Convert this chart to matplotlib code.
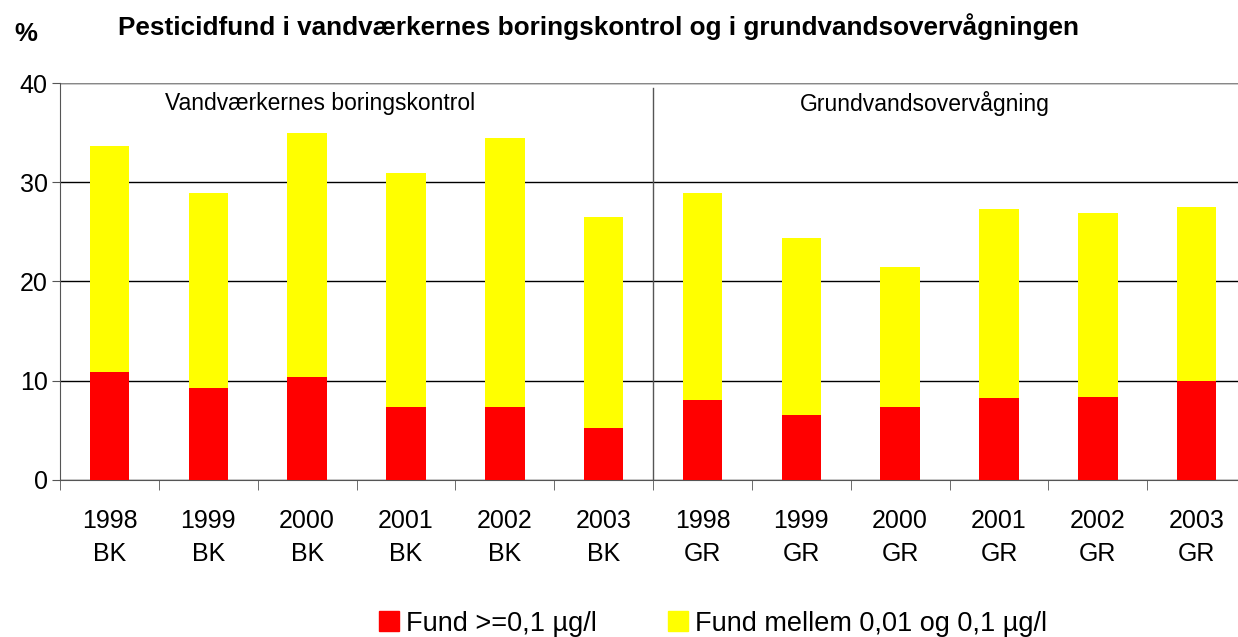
import numpy as np
import matplotlib.pyplot as plt
from matplotlib.patches import Patch

plt.rcParams['font.family'] = ['Liberation Sans', 'DejaVu Sans']

years = ['1998', '1999', '2000', '2001', '2002', '2003']
groups = ['BK', 'GR']
labels = [y + '\n' + g for g in groups for y in years]

# total % with finds, and the part >= 0.1 ug/l
total = [33.7, 28.9, 35.0, 30.9, 34.5, 26.5,
         28.9, 24.4, 21.5, 27.3, 26.9, 27.5]
high = [10.9, 9.3, 10.4, 7.4, 7.4, 5.2,
        8.1, 6.5, 7.4, 8.3, 8.4, 10.0]
low = [t - h for t, h in zip(total, high)]

fig = plt.figure(figsize=(12.38, 6.37), dpi=100)
ax = fig.add_axes([0.0485, 0.2465, 0.958, 0.6232])

x = np.arange(len(labels))
ax.bar(x, high, width=0.4, color='#ff0000', zorder=3)
ax.bar(x, low, bottom=high, width=0.4, color='#ffff00', zorder=3)

ax.set_xlim(-0.5, len(labels) - 0.5)
ax.set_ylim(0, 40)
ax.set_yticks([0, 10, 20, 30, 40])
ax.yaxis.grid(True, color='black', linewidth=1.0, zorder=0)
ax.set_axisbelow(True)

ax.set_xticks(x)
ax.set_xticklabels(labels, fontsize=18, linespacing=1.45)
ax.set_xticks(np.arange(-0.5, len(labels), 1.0), minor=True)
ax.tick_params(axis='x', which='major', length=0, pad=21)
ax.tick_params(axis='x', which='minor', length=7, color='#555555')
ax.tick_params(axis='y', labelsize=18, length=6, color='#555555', pad=3)

for s in ['top', 'right']:
    ax.spines[s].set_visible(False)
ax.spines['left'].set_color('#555555')
ax.spines['bottom'].set_color('#555555')
ax.axhline(40, color='#888888', linewidth=1.5, zorder=1)

ax.plot([5.5, 5.5], [0, 39.5], color='#555555', linewidth=1.0, zorder=2)
ax.text(2.13, 37.9, 'Vandværkernes boringskontrol', ha='center', va='center', fontsize=16.5)
ax.text(8.25, 37.9, 'Grundvandsovervågning', ha='center', va='center', fontsize=16.5)

fig.text(0.095, 0.959, 'Pesticidfund i vandværkernes boringskontrol og i grundvandsovervågningen',
         fontsize=18.8, fontweight='bold', va='center')
fig.text(0.012, 0.946, '%', fontsize=18.5, fontweight='bold', va='center')

handles = [Patch(color='#ff0000', label='Fund >=0,1 µg/l'),
           Patch(color='#ffff00', label='Fund mellem 0,01 og 0,1 µg/l')]
fig.legend(handles=handles, loc='center', bbox_to_anchor=(0.576, 0.021), ncol=2,
           frameon=False, fontsize=19.5, handlelength=0.75, handleheight=0.73,
           handletextpad=0.27, columnspacing=2.6, borderpad=0.0)

fig.savefig('out.png', dpi=100)
